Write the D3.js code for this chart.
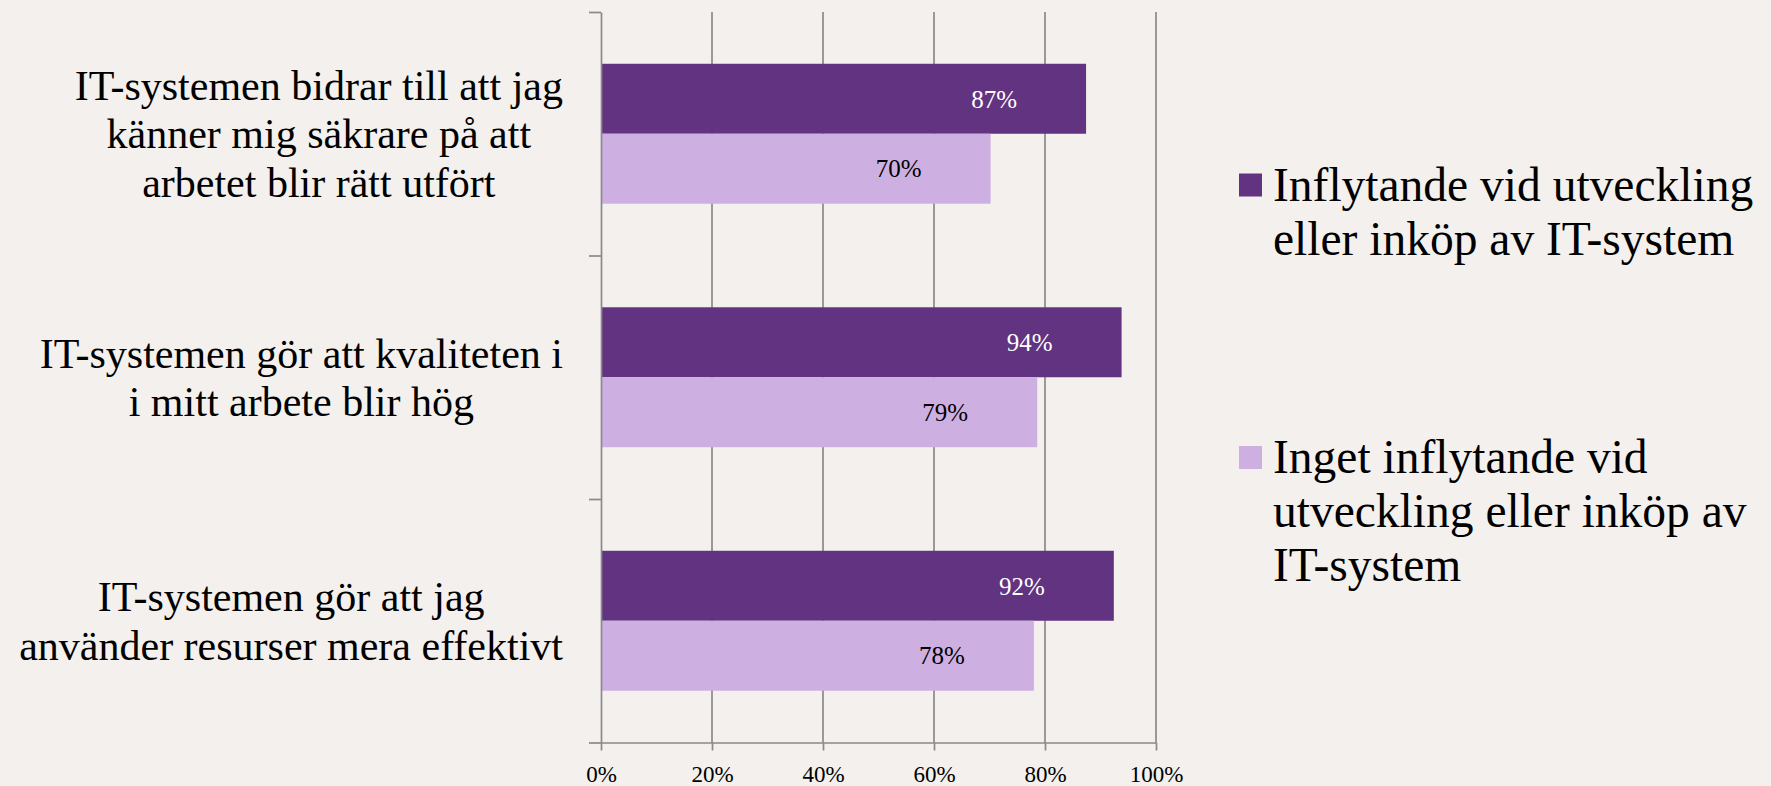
<!DOCTYPE html>
<html>
<head>
<meta charset="utf-8">
<script src="https://cdn.jsdelivr.net/npm/d3@7"></script>
<style>
  body { margin: 0; background: #f3f0ed; }
  svg { display: block; }
  svg text { font-family: "Liberation Serif", "Times New Roman", serif; }
</style>
</head>
<body>
<svg></svg>
<script>
// categories, each one already wrapped the way the picture wraps it
var categories = [
  ["IT-systemen bidrar till att jag", "känner mig säkrare på att", "arbetet blir rätt utfört"],
  ["IT-systemen gör att kvaliteten i", "i mitt arbete blir hög"],
  ["IT-systemen gör att jag", "använder resurser mera effektivt"]
];
var seriesNames = [
  ["Inflytande vid utveckling", "eller inköp av IT-system"],
  ["Inget inflytande vid", "utveckling eller inköp av", "IT-system"]
];
var inflytande = [87.4, 93.8, 92.4];
var ingetInflytande = [70.2, 78.6, 78.0];
var xTicks = [0, 20, 40, 60, 80, 100];
var colors = ["#613381", "#cdb0e1"];

var screen = {width: 1771, height: 786};
var plot = {left: 601, right: 1156, top: 12, bottom: 742.5};
var lineColor = "#8a8a8a";
var lineWidth = 1.7;

var svg = d3.select("svg")
            .attr("width", screen.width)
            .attr("height", screen.height);

var x = d3.scaleLinear()
          .domain([0, 100])
          .range([plot.left, plot.right]);

var y0 = d3.scaleBand()
           .domain(d3.range(categories.length))
           .range([plot.top, plot.bottom]);

var y1 = d3.scaleBand()
           .domain([0, 1])
           .range([0, y0.bandwidth()])
           .paddingOuter(0.74);

var values = [inflytande, ingetInflytande];

// gridlines
svg.append("g")
   .selectAll("line")
   .data(xTicks.slice(1))
   .enter()
   .append("line")
   .attr("x1", function(d) {return x(d)})
   .attr("x2", function(d) {return x(d)})
   .attr("y1", plot.top)
   .attr("y2", plot.bottom)
   .attr("stroke", lineColor)
   .attr("stroke-width", lineWidth);

// bars
var groups = svg.append("g")
  .selectAll("g")
  .data(categories)
  .enter()
  .append("g")
  .attr("transform", function(d, i) {return "translate(0," + y0(i) + ")"});

groups.selectAll("rect")
  .data(function(d, i) {return [0, 1].map(function(s) {return {s: s, v: values[s][i]}})})
  .enter()
  .append("rect")
  .attr("x", x(0))
  .attr("y", function(d) {return y1(d.s)})
  .attr("width", function(d) {return x(d.v) - x(0)})
  .attr("height", y1.bandwidth())
  .attr("fill", function(d) {return colors[d.s]});

groups.selectAll("text.val")
  .data(function(d, i) {return [0, 1].map(function(s) {return {s: s, v: values[s][i]}})})
  .enter()
  .append("text")
  .attr("class", "val")
  .attr("x", function(d) {return x(d.v) - 92})
  .attr("y", function(d) {return y1(d.s) + y1.bandwidth() / 2})
  .attr("dy", "0.35em")
  .attr("text-anchor", "middle")
  .attr("font-size", 25)
  .attr("fill", function(d) {return d.s == 0 ? "#ffffff" : "#000000"})
  .text(function(d) {return Math.round(d.v) + "%"});

// y axis with ticks between categories
var yAxis = d3.axisLeft(d3.scaleLinear().domain([0, categories.length]).range([plot.top, plot.bottom]))
              .ticks(categories.length)
              .tickSize(12)
              .tickSizeOuter(0)
              .tickFormat("");
svg.append("g")
   .attr("transform", "translate(" + plot.left + ",0)")
   .call(yAxis)
   .call(function(g) {g.selectAll("line,path").attr("stroke", lineColor).attr("stroke-width", lineWidth)});

// x axis
var xAxis = d3.axisBottom(x)
              .tickValues(xTicks)
              .tickSize(8)
              .tickSizeOuter(0)
              .tickFormat(function(d) {return d + "%"});
svg.append("g")
   .attr("transform", "translate(0," + plot.bottom + ")")
   .call(xAxis)
   .attr("font-family", null)
   .call(function(g) {
     g.selectAll("line,path").attr("stroke", lineColor).attr("stroke-width", lineWidth);
     g.selectAll("text")
      .attr("font-size", 23)
      .attr("fill", "#000")
      .attr("y", 0)
      .attr("dy", 0)
      .attr("transform", "translate(0,39)");
   });

// category labels: block right-aligned to the axis, lines centred inside it
var labelRight = 563;
var lineH = 48.6;
categories.forEach(function(lines, i) {
  var cy = y0(i) + y0.bandwidth() / 2;
  var g = svg.append("g");
  var texts = g.selectAll("text")
    .data(lines)
    .enter()
    .append("text")
    .attr("font-size", 42)
    .attr("text-anchor", "middle")
    .attr("y", function(d, j) {return cy + (j - (lines.length - 1) / 2) * lineH})
    .attr("dy", "0.35em")
    .text(function(d) {return d});
  var maxW = d3.max(texts.nodes(), function(n) {return n.getComputedTextLength()});
  texts.attr("x", labelRight - maxW / 2);
});

// legend
var legendTop = [185, 457.5];
var legendLineH = 54;
seriesNames.forEach(function(lines, s) {
  var g = svg.append("g");
  g.append("rect")
   .attr("x", 1239)
   .attr("y", legendTop[s] - 11.5)
   .attr("width", 23)
   .attr("height", 23)
   .attr("fill", colors[s]);
  g.selectAll("text")
   .data(lines)
   .enter()
   .append("text")
   .attr("x", 1273)
   .attr("y", function(d, j) {return legendTop[s] + j * legendLineH})
   .attr("dy", "0.33em")
   .attr("font-size", 47.5)
   .text(function(d) {return d});
});
</script>
</body>
</html>
